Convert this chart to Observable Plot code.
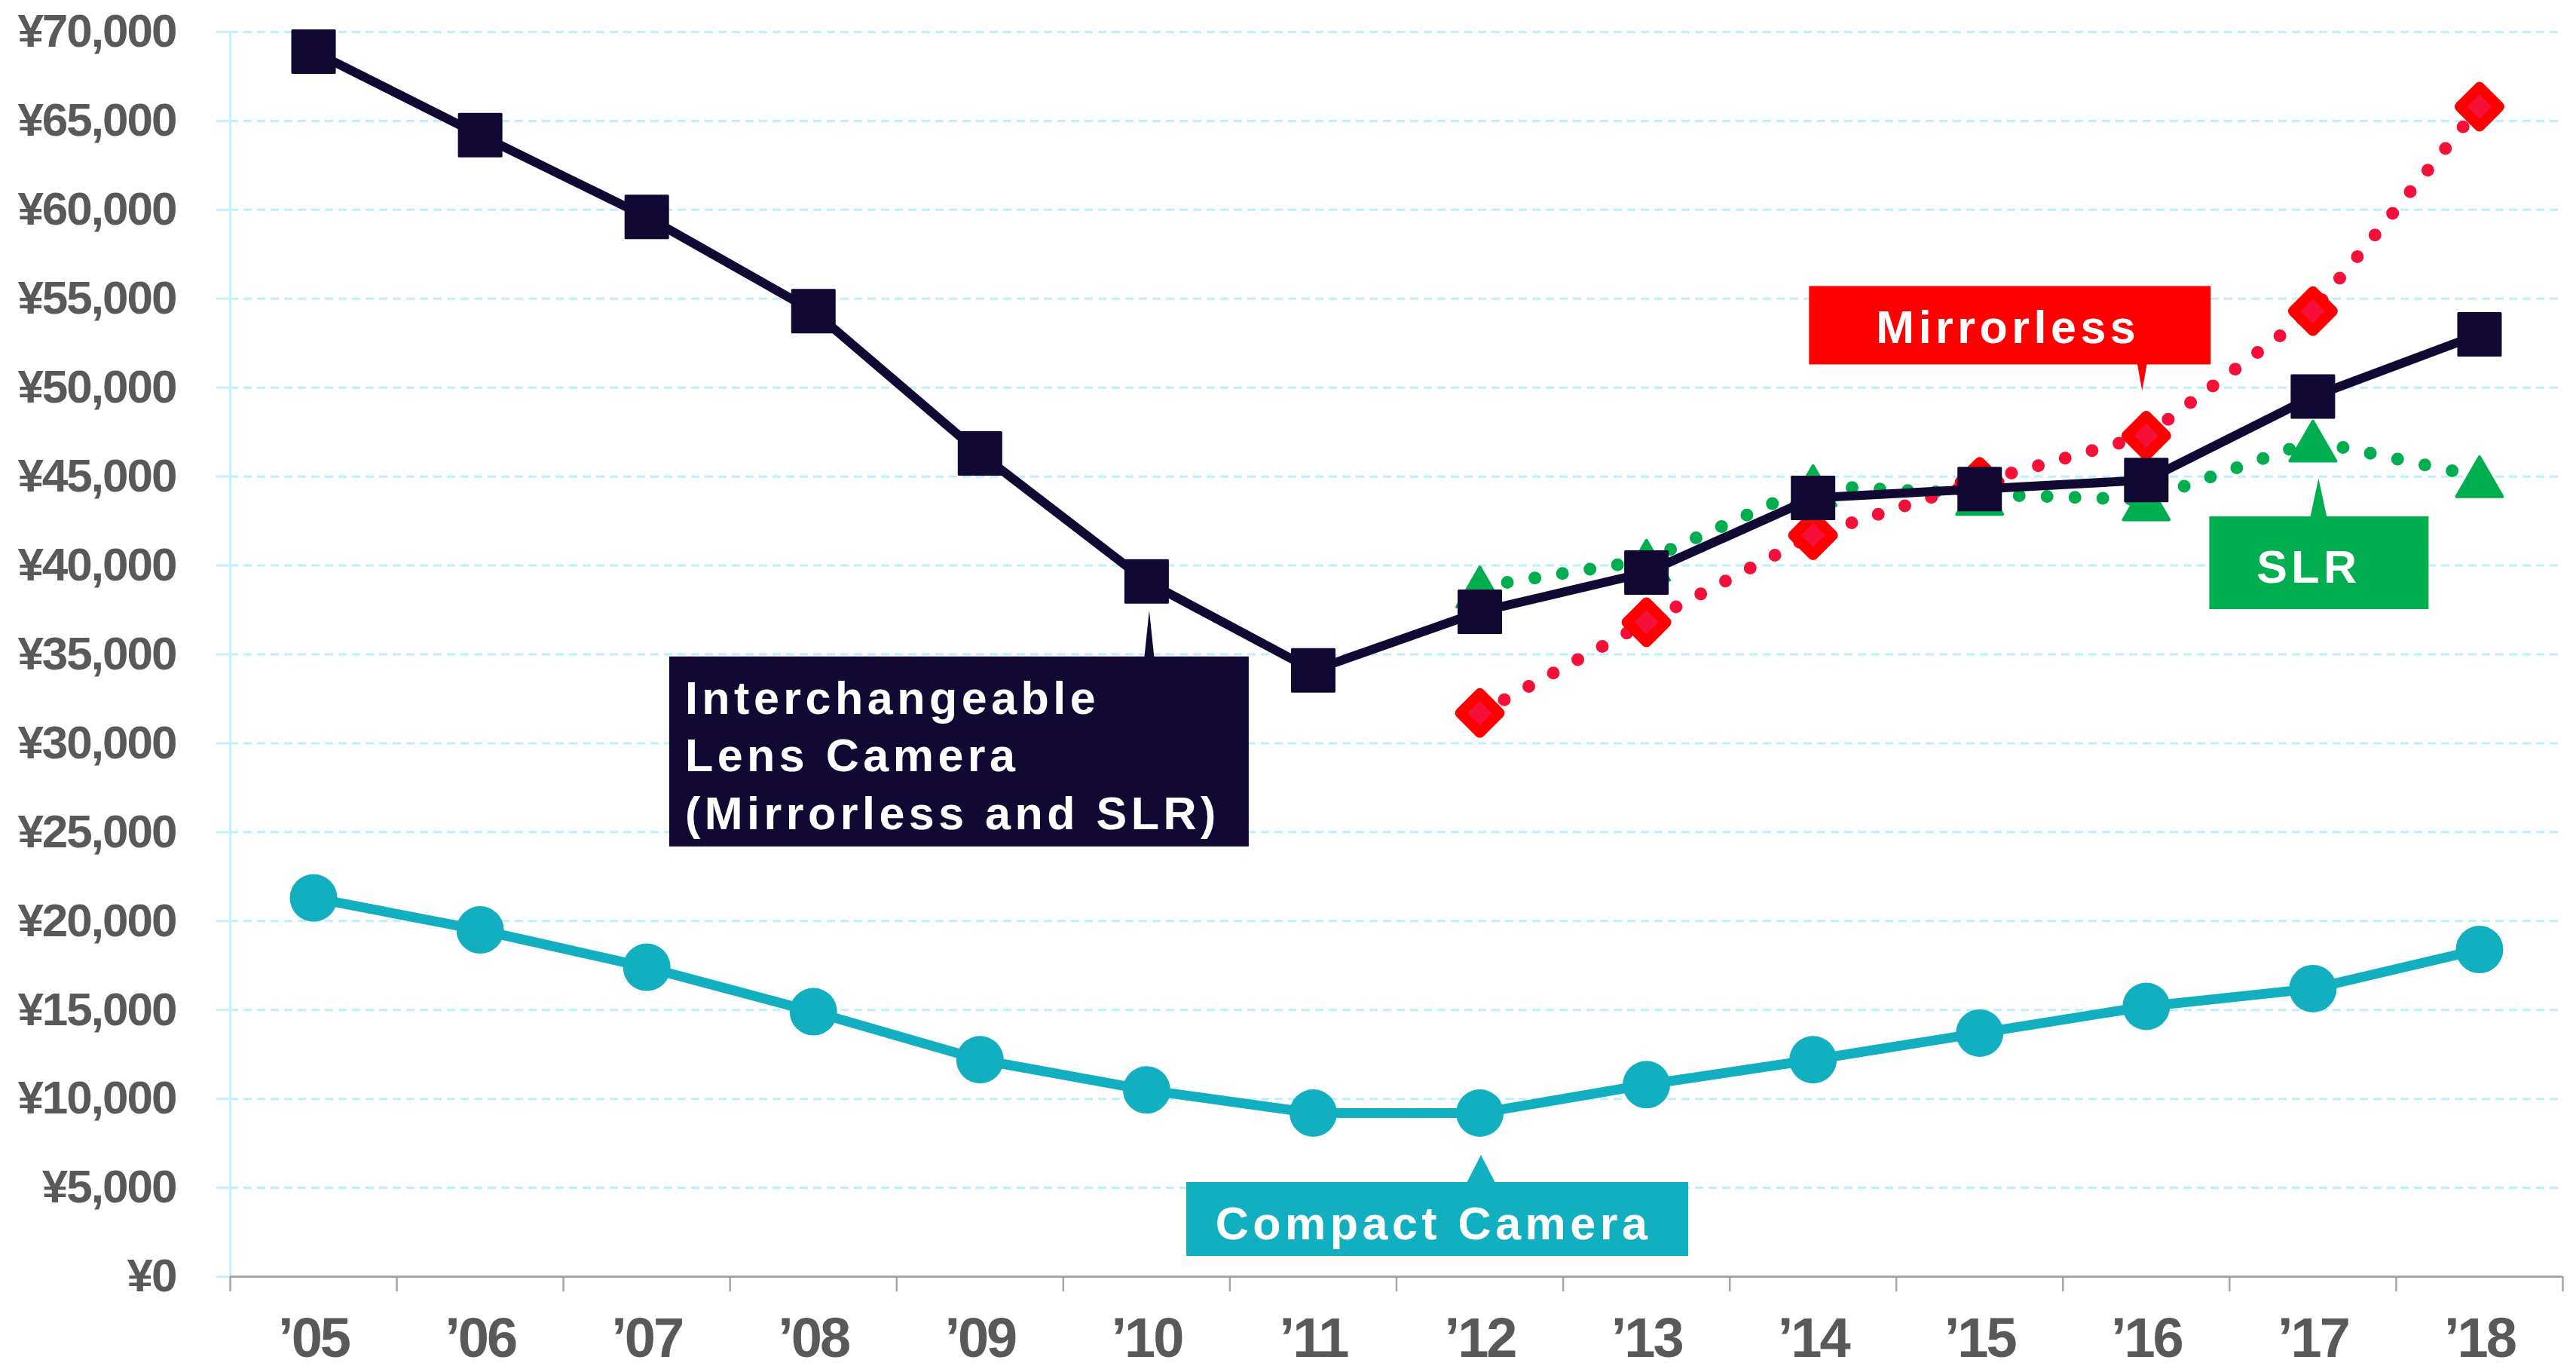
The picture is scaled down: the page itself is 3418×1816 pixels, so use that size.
<!DOCTYPE html>
<html>
<head>
<meta charset="utf-8">
<script src="https://cdn.jsdelivr.net/npm/d3@7"></script>
<script src="https://cdn.jsdelivr.net/npm/@observablehq/plot@0.6"></script>
<style>
  html, body { margin: 0; padding: 0; background: #ffffff; }
  #chart svg { display: block; }
  #chart [aria-label="y-axis tick label"] text { letter-spacing: -2px; }
  #chart [aria-label="x-axis tick label"] text { letter-spacing: -3px; }
  #chart .callout text { letter-spacing: 5.5px; }
</style>
</head>
<body>
<div id="chart"></div>
<script>
// ---- data ----
const years = ["’05","’06","’07","’08","’09","’10","’11","’12","’13","’14","’15","’16","’17","’18"];
const interchangeable = [68900, 64200, 59600, 54300, 46300, 39100, 34100, 37400, 39600, 43800, 44300, 44800, 49500, 53000];
const compact = [21300, 19500, 17400, 14900, 12200, 10500, 9200, 9200, 10800, 12200, 13700, 15200, 16200, 18400];
const splitYears = ["’12","’13","’14","’15","’16","’17","’18"];
const mirrorless = [31700, 36800, 41700, 44700, 47300, 54300, 65800];
const slr = [38800, 40300, 44500, 44000, 43700, 47000, 45000];
const yTicks = [0, 5000, 10000, 15000, 20000, 25000, 30000, 35000, 40000, 45000, 50000, 55000, 60000, 65000, 70000];

const calloutNames = ["interchangeable", "mirrorless", "slr", "compact"];
const calloutLabels = [["Interchangeable", "Lens Camera", "(Mirrorless and SLR)"], ["Mirrorless"], ["SLR"], ["Compact Camera"]];
const calloutYears = ["’10", "’16", "’17", "’12"];

// ---- tables built from the arrays ----
const rows = years.map((year, i) => ({year, pos: i + 0.5, interchangeable: interchangeable[i], compact: compact[i]}));
const splitRows = splitYears.map((year, k) => ({year, pos: years.indexOf(year) + 0.5, mirrorless: mirrorless[k], slr: slr[k]}));

function seriesValue(name, year) {
  if (name === "interchangeable") return interchangeable[years.indexOf(year)];
  if (name === "compact") return compact[years.indexOf(year)];
  if (name === "mirrorless") return mirrorless[splitYears.indexOf(year)];
  return slr[splitYears.indexOf(year)];
}

// ---- styles / layout for callouts (pixel offsets from anchor point) ----
const calloutStyle = {
  interchangeable: {fill: "#110833", box: [-633, 100, 769, 252], tip: [4, 39], base: 13, anchor: "start", text: [-612, 176], lh: 76.5},
  mirrorless: {fill: "#FF0000", box: [-447, -198, 533, 104], tip: [-5, -59], base: 13, anchor: "middle", text: [-183, -122], lh: 0},
  slr: {fill: "#00AE50", box: [-137, 100.5, 291, 123], tip: [8, 50], base: 22, anchor: "middle", text: [-5, 188.5], lh: 0},
  compact: {fill: "#12AFC0", box: [-389, 92, 666, 98], tip: [2, 56], base: 38, anchor: "middle", text: [-61, 168], lh: 0}
};

function calloutMark(index, scales) {
  const g = d3.create("svg:g").attr("class", "callout");
  calloutNames.forEach((name, k) => {
    const s = calloutStyle[name];
    const ax = scales.x(years.indexOf(calloutYears[k]) + 0.5);
    const ay = scales.y(seriesValue(name, calloutYears[k]));
    const bx = ax + s.box[0], by = ay + s.box[1], bw = s.box[2], bh = s.box[3];
    const tx = ax + s.tip[0], ty = ay + s.tip[1];
    const baseY = ty < by ? by + 1 : by + bh - 1;
    g.append("path")
      .attr("d", `M${tx},${ty}L${tx - s.base / 2},${baseY}L${tx + s.base / 2},${baseY}Z`)
      .attr("fill", s.fill);
    g.append("rect")
      .attr("x", bx).attr("y", by).attr("width", bw).attr("height", bh)
      .attr("fill", s.fill);
    const t = g.append("text")
      .attr("fill", "#ffffff")
      .attr("font-size", 61)
      .attr("font-weight", "bold")
      .attr("text-anchor", s.anchor);
    calloutLabels[k].forEach((line, j) => {
      t.append("tspan")
        .attr("x", ax + s.text[0])
        .attr("y", ay + s.text[1] + j * s.lh)
        .text(line);
    });
  });
  return g.node();
}

const chart = Plot.plot({
  width: 3418,
  height: 1816,
  marginLeft: 305,
  marginRight: 18,
  marginTop: 42,
  marginBottom: 123,
  style: {fontFamily: "'Liberation Sans', Arial, sans-serif", background: "#ffffff", overflow: "visible"},
  x: {type: "linear", domain: [0, years.length], axis: null, label: null},
  y: {domain: [0, 70000], axis: null, label: null},
  marks: [
    Plot.gridY(yTicks.slice(1), {stroke: "#BDEFFF", strokeOpacity: 1, strokeWidth: 3, strokeDasharray: "11,7"}),
    Plot.ruleX([0], {stroke: "#C4F0FF", strokeWidth: 3}),
    Plot.axisY(yTicks, {
      label: null,
      tickSize: 18, tickPadding: 54, stroke: "#C4F0FF", strokeWidth: 3,
      tickFormat: v => "¥" + d3.format(",")(v),
      fontSize: 62, fontWeight: "bold", fill: "#595959"
    }),
    Plot.ruleY([0], {stroke: "#A6A6A6", strokeWidth: 3}),
    Plot.axisX(d3.range(0, years.length + 1), {label: null, tickSize: 20, stroke: "#A6A6A6", strokeWidth: 2.5, tickFormat: () => ""}),
    Plot.axisX(rows.map(d => d.pos), {
      label: null,
      tickSize: 0, tickPadding: 54,
      tickFormat: v => years[Math.round(v - 0.5)],
      fontSize: 74, fontWeight: "bold", fill: "#595959"
    }),
    // Compact
    Plot.line(rows, {x: "pos", y: "compact", stroke: "#12AFC0", strokeWidth: 13}),
    Plot.dot(rows, {x: "pos", y: "compact", r: 31.5, fill: "#12AFC0"}),
    // SLR
    Plot.line(splitRows, {x: "pos", y: "slr", stroke: "#00AE50", strokeWidth: 17, strokeDasharray: "0,37", strokeLinecap: "round"}),
    Plot.dot(splitRows, {x: "pos", y: "slr", symbol: "triangle", r: 22.6, dy: 9, fill: "#00AE50", stroke: "#00AE50", strokeWidth: 4, strokeLinejoin: "round"}),
    // Mirrorless
    Plot.line(splitRows, {x: "pos", y: "mirrorless", stroke: "#F5103A", strokeWidth: 17, strokeDasharray: "0,37", strokeLinecap: "round"}),
    Plot.dot(splitRows, {x: "pos", y: "mirrorless", symbol: "diamond2", r: 23.4, fill: "#F5103A", stroke: "#FF0000", strokeWidth: 14, strokeLinejoin: "round"}),
    // Interchangeable
    Plot.line(rows, {x: "pos", y: "interchangeable", stroke: "#110833", strokeWidth: 12}),
    Plot.dot(rows, {x: "pos", y: "interchangeable", symbol: "square", r: 31.6, fill: "#110833", stroke: "#110833", strokeWidth: 3, strokeLinejoin: "round"}),
    calloutMark
  ]
});

document.getElementById("chart").appendChild(chart);
</script>
</body>
</html>
